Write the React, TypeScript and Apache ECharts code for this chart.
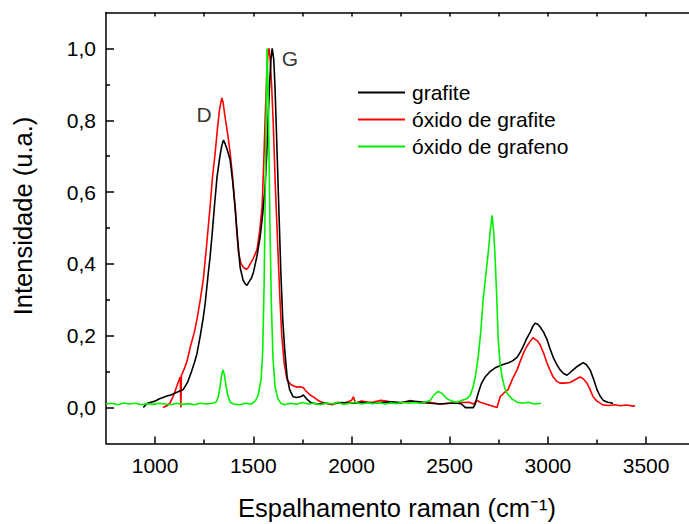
import React, { useEffect, useRef } from "react";
import * as echarts from "echarts";

// Raman spectra: [wavenumber (cm-1), normalised intensity]
const grafite: [number, number][] = [
  [940, 0.0], [960, 0.012], [980, 0.015], [1000, 0.018], [1020, 0.024], [1040, 0.028],
  [1060, 0.032], [1080, 0.035], [1100, 0.04], [1120, 0.045], [1143, 0.05], [1165, 0.07],
  [1185, 0.1], [1200, 0.125], [1213, 0.15], [1230, 0.2], [1245, 0.25], [1255, 0.29],
  [1270, 0.37], [1280, 0.42], [1290, 0.48], [1302, 0.56], [1315, 0.64], [1330, 0.7],
  [1340, 0.73], [1348, 0.745], [1356, 0.735], [1366, 0.72], [1382, 0.69], [1395, 0.63],
  [1407, 0.56], [1420, 0.47], [1433, 0.39], [1448, 0.355], [1458, 0.345], [1468, 0.34],
  [1478, 0.35], [1490, 0.36], [1500, 0.375], [1518, 0.42], [1535, 0.475], [1548, 0.54],
  [1560, 0.615], [1568, 0.7], [1575, 0.8], [1583, 0.9], [1590, 0.97], [1596, 1.0],
  [1604, 0.97], [1610, 0.9], [1616, 0.8], [1624, 0.66], [1632, 0.52], [1640, 0.38],
  [1650, 0.245], [1660, 0.16], [1672, 0.086], [1685, 0.05], [1703, 0.03], [1720, 0.028],
  [1740, 0.03], [1755, 0.035], [1770, 0.025], [1790, 0.015], [1805, 0.012], [1830, 0.01],
  [1860, 0.012], [1900, 0.01], [1950, 0.014], [2000, 0.012], [2050, 0.015], [2100, 0.012],
  [2150, 0.014], [2200, 0.016], [2250, 0.014], [2300, 0.018], [2350, 0.016], [2400, 0.012],
  [2450, 0.01], [2500, 0.012], [2540, 0.012], [2560, 0.01], [2580, 0.0], [2620, 0.0],
  [2630, 0.01], [2645, 0.04], [2660, 0.065], [2680, 0.085], [2705, 0.1], [2730, 0.11],
  [2750, 0.115], [2772, 0.12], [2800, 0.125], [2820, 0.13], [2843, 0.14], [2860, 0.155],
  [2874, 0.17], [2890, 0.19], [2910, 0.21], [2925, 0.228], [2935, 0.235], [2948, 0.232],
  [2960, 0.225], [2978, 0.21], [2995, 0.19], [3010, 0.165], [3027, 0.14], [3045, 0.12],
  [3062, 0.105], [3080, 0.095], [3097, 0.09], [3112, 0.097], [3128, 0.105], [3150, 0.115],
  [3165, 0.12], [3180, 0.125], [3195, 0.12], [3215, 0.105], [3232, 0.08], [3250, 0.05],
  [3265, 0.033], [3282, 0.02], [3305, 0.015], [3332, 0.012],
];

const oxidoGrafite: [number, number][] = [
  [1040, 0.0], [1060, 0.005], [1076, 0.013], [1095, 0.035], [1117, 0.07], [1128, 0.085],
  [1131, 0.0], [1134, 0.09], [1150, 0.11], [1163, 0.13], [1180, 0.17], [1200, 0.21],
  [1213, 0.245], [1230, 0.3], [1245, 0.355], [1262, 0.45], [1280, 0.56], [1292, 0.64],
  [1306, 0.71], [1318, 0.78], [1328, 0.83], [1335, 0.85], [1340, 0.862], [1346, 0.85],
  [1356, 0.81], [1370, 0.76], [1382, 0.71], [1395, 0.64], [1407, 0.56], [1416, 0.49],
  [1425, 0.43], [1438, 0.4], [1450, 0.39], [1465, 0.385], [1475, 0.39], [1484, 0.4],
  [1500, 0.415], [1519, 0.44], [1532, 0.49], [1545, 0.56], [1553, 0.68], [1560, 0.8],
  [1568, 0.92], [1575, 0.99], [1580, 1.0], [1586, 0.97], [1593, 0.9], [1601, 0.8],
  [1612, 0.62], [1626, 0.43], [1635, 0.31], [1645, 0.2], [1658, 0.12], [1672, 0.077],
  [1690, 0.065], [1705, 0.06], [1723, 0.057], [1740, 0.058], [1755, 0.055], [1770, 0.045],
  [1790, 0.035], [1805, 0.03], [1830, 0.02], [1850, 0.015], [1875, 0.012], [1900, 0.008],
  [1930, 0.015], [1960, 0.012], [2000, 0.02], [2010, 0.03], [2020, 0.012], [2050, 0.018],
  [2100, 0.014], [2150, 0.02], [2200, 0.016], [2250, 0.012], [2300, 0.02], [2350, 0.012],
  [2400, 0.015], [2450, 0.01], [2500, 0.012], [2550, 0.014], [2600, 0.015], [2620, 0.01],
  [2640, 0.02], [2655, 0.015], [2741, 0.0], [2757, 0.03], [2775, 0.04], [2797, 0.05],
  [2820, 0.08], [2843, 0.105], [2860, 0.13], [2874, 0.15], [2890, 0.168], [2910, 0.185],
  [2925, 0.195], [2935, 0.19], [2948, 0.185], [2960, 0.175], [2978, 0.152], [2995, 0.125],
  [3010, 0.105], [3027, 0.085], [3045, 0.073], [3062, 0.068], [3085, 0.068], [3113, 0.07],
  [3140, 0.078], [3164, 0.085], [3180, 0.08], [3199, 0.068], [3215, 0.05], [3230, 0.03],
  [3250, 0.018], [3282, 0.007], [3310, 0.006], [3340, 0.008], [3370, 0.005], [3400, 0.007],
  [3434, 0.004], [3444, 0.005],
];

const oxidoGrafeno: [number, number][] = [
  [750, 0.01], [780, 0.012], [810, 0.008], [840, 0.013], [870, 0.01], [900, 0.012],
  [930, 0.008], [960, 0.011], [990, 0.009], [1020, 0.012], [1050, 0.01], [1080, 0.008],
  [1110, 0.012], [1140, 0.009], [1170, 0.011], [1200, 0.008], [1230, 0.012], [1260, 0.01],
  [1290, 0.012], [1310, 0.015], [1322, 0.03], [1331, 0.06], [1340, 0.095], [1346, 0.105],
  [1353, 0.09], [1360, 0.065], [1370, 0.035], [1382, 0.015], [1400, 0.01], [1430, 0.008],
  [1460, 0.012], [1490, 0.01], [1510, 0.018], [1525, 0.035], [1540, 0.08], [1548, 0.16],
  [1555, 0.34], [1560, 0.55], [1565, 0.8], [1570, 1.0], [1575, 0.9], [1580, 0.71],
  [1585, 0.5], [1592, 0.29], [1600, 0.14], [1611, 0.057], [1625, 0.025], [1640, 0.012],
  [1660, 0.008], [1690, 0.012], [1720, 0.009], [1750, 0.014], [1780, 0.01], [1810, 0.012],
  [1840, 0.008], [1870, 0.013], [1900, 0.01], [1930, 0.014], [1960, 0.009], [1990, 0.012],
  [2020, 0.015], [2050, 0.01], [2080, 0.013], [2110, 0.011], [2140, 0.014], [2170, 0.01],
  [2200, 0.013], [2230, 0.011], [2260, 0.015], [2290, 0.012], [2320, 0.014], [2350, 0.012],
  [2380, 0.016], [2400, 0.02], [2420, 0.035], [2441, 0.045], [2460, 0.04], [2486, 0.025],
  [2510, 0.018], [2537, 0.015], [2560, 0.02], [2589, 0.025], [2605, 0.035], [2619, 0.057],
  [2632, 0.09], [2645, 0.14], [2658, 0.21], [2670, 0.3], [2684, 0.37], [2696, 0.43],
  [2706, 0.49], [2716, 0.535], [2724, 0.49], [2731, 0.42], [2740, 0.3], [2747, 0.19],
  [2757, 0.12], [2767, 0.085], [2780, 0.055], [2792, 0.04], [2815, 0.025], [2843, 0.015],
  [2870, 0.012], [2900, 0.015], [2930, 0.01], [2965, 0.012],
];

// Band annotations (D and G) placed in data coordinates
const bandLabels = [
  { name: "D", value: [1249, 0.817] },
  { name: "G", value: [1687, 0.972] },
];

const seriesNames = ["grafite", "óxido de grafite", "óxido de grafeno"];

const xMajorTicks = [1000, 1500, 2000, 2500, 3000, 3500];
const xMinorTicks = [1250, 1750, 2250, 2750, 3250];
const xTopTicks = [1000, 1250, 1500, 1750, 2000, 2250, 2500, 2750, 3000, 3250, 3500];
const yMajorTicks = [0, 0.2, 0.4, 0.6, 0.8, 1.0];
const yMinorTicks = [0.1, 0.3, 0.5, 0.7, 0.9];

const xTitle = "Espalhamento raman (cm\u207B\u00B9)";
const yTitle = "Intensidade (u.a.)";

const FONT = "'Liberation Sans', Arial, sans-serif";
const X_MIN = 750;
const X_MAX = 3720;
const Y_MIN = -0.1;
const Y_MAX = 1.1;

export default function App() {
  const ref = useRef<HTMLDivElement>(null);

  useEffect(() => {
    if (!ref.current) return;
    const chart = echarts.init(ref.current, undefined, { renderer: "svg" });

    const axisLineStyle = { color: "#000", width: 1.5 };
    const baseX = {
      type: "value" as const,
      min: X_MIN,
      max: X_MAX,
      splitLine: { show: false },
    };
    const baseY = {
      type: "value" as const,
      min: Y_MIN,
      max: Y_MAX,
      splitLine: { show: false },
    };

    chart.setOption({
      animation: false,
      backgroundColor: "#fff",
      grid: {
        left: 106,
        top: 12.5,
        width: 583.3,
        height: 431,
        containLabel: false,
        outerBoundsMode: "none",
      },
      xAxis: [
        {
          ...baseX,
          position: "bottom",
          axisLine: { show: true, onZero: false, lineStyle: axisLineStyle },
          axisTick: {
            show: true,
            inside: true,
            length: 7,
            customValues: xMajorTicks,
            lineStyle: axisLineStyle,
          },
          axisLabel: {
            customValues: xMajorTicks,
            margin: 11,
            fontSize: 21,
            fontFamily: FONT,
            color: "#000",
            formatter: (v: number) => String(v),
          },
        },
        {
          ...baseX,
          position: "bottom",
          axisLine: { show: false, onZero: false },
          axisTick: {
            show: true,
            inside: true,
            length: 4,
            customValues: xMinorTicks,
            lineStyle: axisLineStyle,
          },
          axisLabel: { show: false },
        },
        {
          ...baseX,
          position: "top",
          axisLine: { show: true, onZero: false, lineStyle: axisLineStyle },
          axisTick: {
            show: true,
            inside: true,
            length: 4,
            customValues: xTopTicks,
            lineStyle: axisLineStyle,
          },
          axisLabel: { show: false },
        },
      ],
      yAxis: [
        {
          ...baseY,
          position: "left",
          axisLine: { show: true, onZero: false, lineStyle: axisLineStyle },
          axisTick: {
            show: true,
            inside: true,
            length: 8,
            customValues: yMajorTicks,
            lineStyle: axisLineStyle,
          },
          axisLabel: {
            customValues: yMajorTicks,
            margin: 10,
            fontSize: 21,
            fontFamily: FONT,
            color: "#000",
            formatter: (v: number) => v.toFixed(1).replace(".", ","),
          },
        },
        {
          ...baseY,
          position: "left",
          axisLine: { show: false, onZero: false },
          axisTick: {
            show: true,
            inside: true,
            length: 4,
            customValues: yMinorTicks,
            lineStyle: axisLineStyle,
          },
          axisLabel: { show: false },
        },
      ],
      legend: {
        data: seriesNames,
        orient: "vertical",
        left: 358,
        top: 82,
        padding: 0,
        icon: "rect",
        itemWidth: 47,
        itemHeight: 2,
        itemGap: 6,
        selectedMode: false,
        textStyle: {
          fontSize: 21,
          fontFamily: FONT,
          color: "#000",
          lineHeight: 20,
          padding: [0, 0, 0, 2],
        },
      },
      series: [
        {
          name: seriesNames[1],
          type: "line",
          data: oxidoGrafite,
          showSymbol: false,
          symbol: "none",
          color: "#ff0000",
          lineStyle: { width: 1.6, color: "#ff0000" },
        },
        {
          name: seriesNames[0],
          type: "line",
          data: grafite,
          showSymbol: false,
          symbol: "none",
          color: "#000000",
          lineStyle: { width: 1.6, color: "#000000" },
        },
        {
          name: seriesNames[2],
          type: "line",
          data: oxidoGrafeno,
          showSymbol: false,
          symbol: "none",
          color: "#00f000",
          lineStyle: { width: 1.6, color: "#00f000" },
        },
        {
          name: "bandas",
          type: "scatter",
          data: bandLabels,
          symbolSize: 1,
          itemStyle: { color: "rgba(0,0,0,0)" },
          silent: true,
          label: {
            show: true,
            position: "inside",
            formatter: "{b}",
            fontSize: 21,
            fontFamily: FONT,
            color: "#000",
          },
        },
      ],
      graphic: [
        {
          type: "text",
          x: 23,
          y: 216,
          rotation: Math.PI / 2,
          style: {
            text: yTitle,
            fontSize: 25.5,
            fontFamily: FONT,
            fill: "#000",
            align: "center",
            verticalAlign: "middle",
          },
        },
        {
          type: "text",
          x: 397,
          y: 508,
          style: {
            text: xTitle,
            fontSize: 25.5,
            fontFamily: FONT,
            fill: "#000",
            align: "center",
            verticalAlign: "middle",
          },
        },
      ],
    });

    return () => chart.dispose();
  }, []);

  return (
    <div
      ref={ref}
      style={{ position: "fixed", left: 0, top: 0, width: 689, height: 524 }}
    />
  );
}
